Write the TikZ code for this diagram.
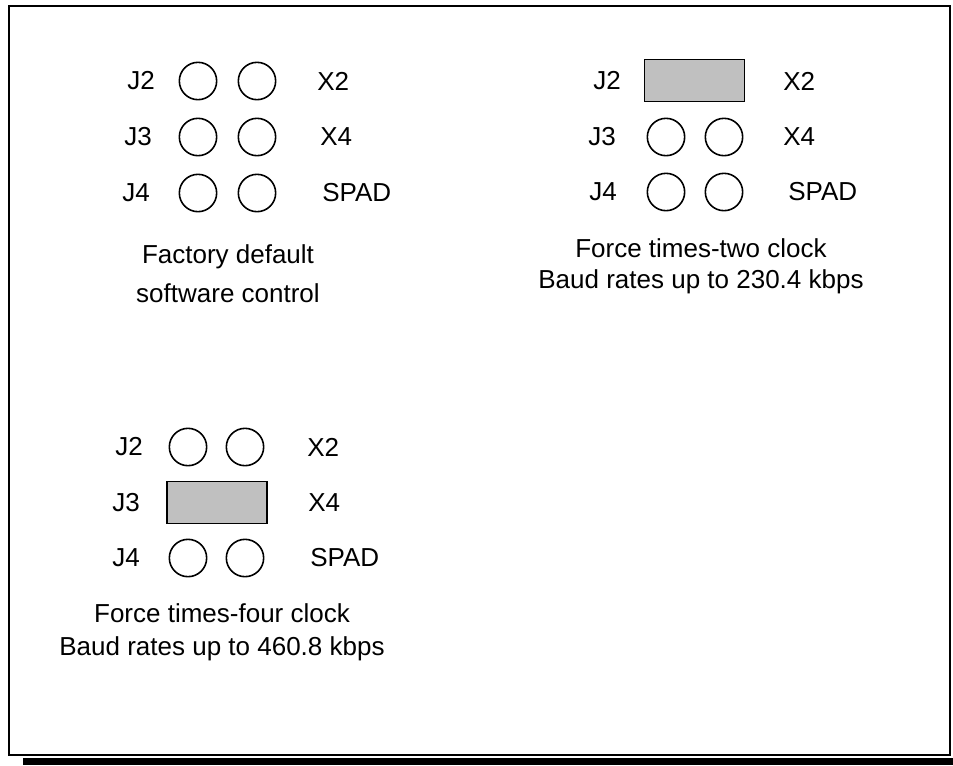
\documentclass[tikz,border=0pt]{standalone}
\usepackage{fontspec}
\setmainfont{Liberation Sans}
\definecolor{jumpergray}{HTML}{C0C0C0}
\begin{document}
\begin{tikzpicture}[x=0.75pt, y=-0.75pt]
    \tikzstyle{every node}=[font=\fontsize{19.5}{24}\selectfont, inner sep=0pt]
    \tikzset{
        hole/.style={draw, circle, line width=1.2pt, minimum size=28pt},
        jumper/.style={draw, line width=1.2pt, fill=jumpergray, minimum width=75pt, minimum height=31.5pt},
        lbl/.style={anchor=west},
        note/.style={align=center, anchor=north}
        }
    \useasboundingbox (0,0) rectangle (953,765);

    %frame
    \draw[line width=1.6pt] (9,6) rectangle (950,755);
    \fill (23,757.5) rectangle (953,765);

    %factory default
    \node (aJ2) [lbl] at (127,81) {J2};
    \node (aJ3) [lbl] at (124,137) {J3};
    \node (aJ4) [lbl] at (122,193) {J4};
    \node (aH21) [hole] at (198,81) {};
    \node (aH22) [hole] at (257,81) {};
    \node (aH31) [hole] at (198,137) {};
    \node (aH32) [hole] at (257,137) {};
    \node (aH41) [hole] at (198,193) {};
    \node (aH42) [hole] at (257,193) {};
    \node (aX2) [lbl] at (317,81) {X2};
    \node (aX4) [lbl] at (320,137) {X4};
    \node (aSP) [lbl] at (322,193) {SPAD};
    \node (aNote) [note, font=\fontsize{19.5}{29.25}\selectfont] at (228,244) {Factory default\\software control};

    %times-two
    \node (bJ2) [lbl] at (593,81) {J2};
    \node (bJ3) [lbl] at (588,137) {J3};
    \node (bJ4) [lbl] at (589,192) {J4};
    \node (bJmp) [jumper] at (694.5,80.5) {};
    \node (bH31) [hole] at (666,137) {};
    \node (bH32) [hole] at (724,137) {};
    \node (bH41) [hole] at (666,192) {};
    \node (bH42) [hole] at (724,192) {};
    \node (bX2) [lbl] at (783,81) {X2};
    \node (bX4) [lbl] at (783,137) {X4};
    \node (bSP) [lbl] at (788,192) {SPAD};
    \node (bNote) [note, font=\fontsize{19.5}{23.25}\selectfont] at (701,238) {Force times-two clock\\Baud rates up to 230.4 kbps};

    %times-four
    \node (cJ2) [lbl] at (115,447) {J2};
    \node (cJ3) [lbl] at (112,502.5) {J3};
    \node (cJ4) [lbl] at (112,558) {J4};
    \node (cH21) [hole] at (188,447) {};
    \node (cH22) [hole] at (245,447) {};
    \node (cJmp) [jumper] at (217,502.5) {};
    \node (cH41) [hole] at (188,558) {};
    \node (cH42) [hole] at (245,558) {};
    \node (cX2) [lbl] at (307,447) {X2};
    \node (cX4) [lbl] at (308,502.5) {X4};
    \node (cSP) [lbl] at (310,558) {SPAD};
    \node (cNote) [note, font=\fontsize{19.5}{24.75}\selectfont] at (222,603) {Force times-four clock\\Baud rates up to 460.8 kbps};
\end{tikzpicture}
\end{document}
